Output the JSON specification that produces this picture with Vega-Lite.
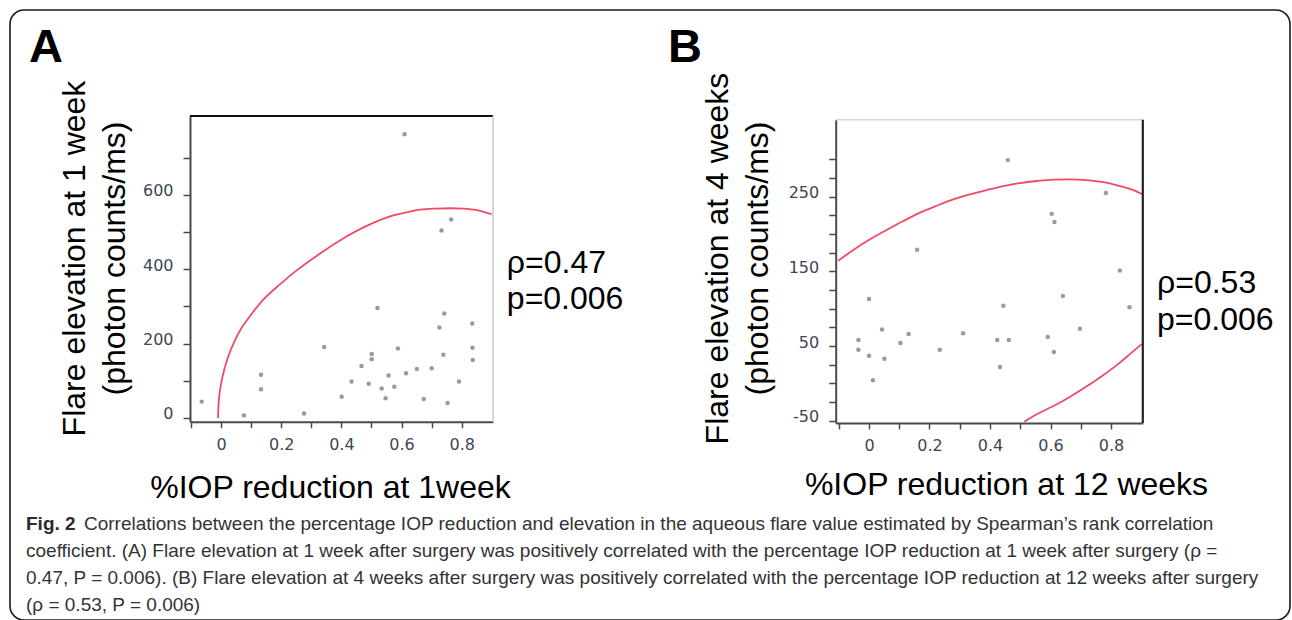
{
  "$schema": "https://vega.github.io/schema/vega-lite/v6.json",
  "width": 1280,
  "height": 610,
  "autosize": {"type": "none"},
  "padding": {"left": 10, "top": 10, "right": 2, "bottom": 0},
  "background": "white",
  "view": {"stroke": "#1a1a1a", "strokeWidth": 1.6, "cornerRadius": 14, "fill": "white"},
  "datasets": {
    "pointsA": [
      {"x": -0.064, "y": 44}, {"x": 0.076, "y": 7}, {"x": 0.133, "y": 116}, {"x": 0.133, "y": 77},
      {"x": 0.276, "y": 12}, {"x": 0.343, "y": 191}, {"x": 0.401, "y": 57}, {"x": 0.434, "y": 98},
      {"x": 0.467, "y": 140}, {"x": 0.491, "y": 92}, {"x": 0.501, "y": 172}, {"x": 0.501, "y": 158},
      {"x": 0.52, "y": 296}, {"x": 0.534, "y": 79}, {"x": 0.547, "y": 53}, {"x": 0.557, "y": 114},
      {"x": 0.576, "y": 84}, {"x": 0.588, "y": 187}, {"x": 0.61, "y": 763}, {"x": 0.615, "y": 120},
      {"x": 0.651, "y": 132}, {"x": 0.674, "y": 51}, {"x": 0.7, "y": 134}, {"x": 0.726, "y": 243},
      {"x": 0.733, "y": 504}, {"x": 0.739, "y": 170}, {"x": 0.742, "y": 281}, {"x": 0.753, "y": 40},
      {"x": 0.765, "y": 534}, {"x": 0.791, "y": 98}, {"x": 0.835, "y": 254}, {"x": 0.836, "y": 189},
      {"x": 0.837, "y": 156}
    ],
    "curveA": [
      {"x": -0.01, "y": 0}, {"x": -0.0066, "y": 52.5}, {"x": 0.0, "y": 90.9}, {"x": 0.01, "y": 127.8},
      {"x": 0.0233, "y": 163.3}, {"x": 0.0432, "y": 203.4}, {"x": 0.0698, "y": 243.7}, {"x": 0.103, "y": 281.1},
      {"x": 0.1429, "y": 320.2}, {"x": 0.196, "y": 359.2}, {"x": 0.2558, "y": 399.5}, {"x": 0.3223, "y": 438.5},
      {"x": 0.3953, "y": 477.5}, {"x": 0.4841, "y": 516.5}, {"x": 0.5724, "y": 544.8}, {"x": 0.6168, "y": 553},
      {"x": 0.6611, "y": 560}, {"x": 0.7165, "y": 563}, {"x": 0.7608, "y": 564}, {"x": 0.8051, "y": 563},
      {"x": 0.8494, "y": 559}, {"x": 0.8992, "y": 548}
    ],
    "pointsB": [
      {"x": -0.035, "y": 58}, {"x": -0.035, "y": 45}, {"x": 0.0, "y": 113}, {"x": 0.0, "y": 37},
      {"x": 0.013, "y": 4}, {"x": 0.043, "y": 72}, {"x": 0.051, "y": 33}, {"x": 0.104, "y": 54},
      {"x": 0.131, "y": 66}, {"x": 0.159, "y": 179}, {"x": 0.234, "y": 45}, {"x": 0.311, "y": 67},
      {"x": 0.424, "y": 58}, {"x": 0.433, "y": 22}, {"x": 0.444, "y": 104}, {"x": 0.459, "y": 299},
      {"x": 0.462, "y": 58}, {"x": 0.591, "y": 62}, {"x": 0.604, "y": 227}, {"x": 0.611, "y": 42},
      {"x": 0.613, "y": 216}, {"x": 0.641, "y": 117}, {"x": 0.697, "y": 73}, {"x": 0.783, "y": 255},
      {"x": 0.829, "y": 151}, {"x": 0.861, "y": 102}
    ],
    "curveB": [
      {"seg": "upper", "x": -0.1014, "y": 164.3}, {"seg": "upper", "x": -0.0518, "y": 178.6},
      {"seg": "upper", "x": 0.0033, "y": 192.9}, {"seg": "upper", "x": 0.0584, "y": 205.4},
      {"seg": "upper", "x": 0.1136, "y": 217.4}, {"seg": "upper", "x": 0.1687, "y": 228.6},
      {"seg": "upper", "x": 0.2238, "y": 237.9}, {"seg": "upper", "x": 0.2789, "y": 246.4},
      {"seg": "upper", "x": 0.3341, "y": 253.1}, {"seg": "upper", "x": 0.3892, "y": 258.9},
      {"seg": "upper", "x": 0.4443, "y": 264.3}, {"seg": "upper", "x": 0.4994, "y": 268.3},
      {"seg": "upper", "x": 0.5546, "y": 271.0}, {"seg": "upper", "x": 0.6097, "y": 272.8},
      {"seg": "upper", "x": 0.6648, "y": 273.2}, {"seg": "upper", "x": 0.72, "y": 272.3},
      {"seg": "upper", "x": 0.7751, "y": 269.6}, {"seg": "upper", "x": 0.8302, "y": 264.3},
      {"seg": "upper", "x": 0.8743, "y": 258.9}, {"seg": "upper", "x": 0.9019, "y": 253.6},
      {"seg": "lower", "x": 0.5138, "y": -51.3}, {"seg": "lower", "x": 0.5546, "y": -41.5},
      {"seg": "lower", "x": 0.6097, "y": -30.4}, {"seg": "lower", "x": 0.6648, "y": -17.9},
      {"seg": "lower", "x": 0.72, "y": -4.0}, {"seg": "lower", "x": 0.7751, "y": 11.2},
      {"seg": "lower", "x": 0.8302, "y": 28.1}, {"seg": "lower", "x": 0.8688, "y": 41.5},
      {"seg": "lower", "x": 0.9019, "y": 52.7}
    ],
    "caption": [
      {"line": 1, "part": "label", "text": "Fig. 2"},
      {"line": 1, "part": "body", "text": "Correlations between the percentage IOP reduction and elevation in the aqueous flare value estimated by Spearman’s rank correlation"},
      {"line": 2, "part": "body", "text": "coefficient. (A) Flare elevation at 1 week after surgery was positively correlated with the percentage IOP reduction at 1 week after surgery (ρ ="},
      {"line": 3, "part": "body", "text": "0.47, P = 0.006). (B) Flare elevation at 4 weeks after surgery was positively correlated with the percentage IOP reduction at 12 weeks after surgery"},
      {"line": 4, "part": "body", "text": "(ρ = 0.53, P = 0.006)"}
    ]
  },
  "layer": [
    {
      "layer": [
        {
          "data": {"name": "pointsA"},
          "mark": {"type": "circle", "size": 20, "color": "#9a9a9a", "opacity": 1},
          "encoding": {
            "x": {
              "field": "x", "type": "quantitative",
              "scale": {"domain": [-0.103, 0.904], "range": [180, 483], "zero": false, "nice": false},
              "axis": {
                "orient": "bottom", "offset": -198.3,
                "values": [-0.1, 0, 0.1, 0.2, 0.3, 0.4, 0.5, 0.6, 0.7, 0.8],
                "labelExpr": "round(datum.value * 10) % 2 === 0 ? '' + datum.value : ''",
                "title": "%IOP reduction at 1week", "titleX": 320, "titleY": 76
              }
            },
            "y": {
              "field": "y", "type": "quantitative",
              "scale": {"domain": [-10, 812], "range": [411.7, 106], "zero": false, "nice": false},
              "axis": {
                "orient": "left", "offset": -180,
                "values": [0, 100, 200, 300, 400, 500, 600, 700],
                "labelExpr": "datum.value % 200 === 0 ? '' + datum.value : ''",
                "title": ["Flare elevation at 1 week", "(photon counts/ms)"],
                "titleX": -106, "titleY": 248
              }
            }
          }
        },
        {
          "data": {"name": "curveA"},
          "mark": {"type": "line", "color": "#ef4b66", "strokeWidth": 1.8, "interpolate": "catmull-rom"},
          "encoding": {
            "x": {"field": "x", "type": "quantitative"},
            "y": {"field": "y", "type": "quantitative"}
          }
        },
        {
          "data": {"values": [{}]},
          "mark": {"type": "rule", "color": "#111111", "strokeWidth": 2},
          "encoding": {
            "x": {"datum": -0.103, "type": "quantitative"},
            "x2": {"datum": 0.904},
            "y": {"datum": 812, "type": "quantitative"}
          }
        },
        {
          "data": {"values": [{}]},
          "mark": {"type": "rule", "color": "#c8c8c8", "strokeWidth": 1.5},
          "encoding": {
            "x": {"datum": 0.904, "type": "quantitative"},
            "y": {"datum": -10, "type": "quantitative"},
            "y2": {"datum": 812}
          }
        },
        {
          "data": {"values": [{"label": "ρ=0.47\np=0.006"}]},
          "mark": {"type": "text", "align": "left", "baseline": "alphabetic", "font": "Liberation Sans", "fontSize": 32, "lineHeight": 36, "lineBreak": "\n", "color": "#000000"},
          "encoding": {
            "x": {"datum": 0.95, "type": "quantitative"},
            "y": {"datum": 390, "type": "quantitative"},
            "text": {"field": "label"}
          }
        },
        {
          "data": {"values": [{"label": "A"}]},
          "mark": {"type": "text", "align": "left", "baseline": "alphabetic", "font": "Liberation Sans", "fontSize": 47, "fontWeight": "bold", "color": "#000000"},
          "encoding": {
            "x": {"datum": -0.638, "type": "quantitative"},
            "y": {"datum": 957.8, "type": "quantitative"},
            "text": {"field": "label"}
          }
        }
      ]
    },
    {
      "layer": [
        {
          "data": {"name": "pointsB"},
          "mark": {"type": "circle", "size": 20, "color": "#9a9a9a", "opacity": 1},
          "encoding": {
            "x": {
              "field": "x", "type": "quantitative",
              "scale": {"domain": [-0.11, 0.905], "range": [825.7, 1132.8], "zero": false, "nice": false},
              "axis": {
                "orient": "bottom", "offset": -197.1,
                "values": [-0.1, 0, 0.1, 0.2, 0.3, 0.4, 0.5, 0.6, 0.7, 0.8],
                "labelExpr": "round(datum.value * 10) % 2 === 0 ? '' + datum.value : ''",
                "title": "%IOP reduction at 12 weeks", "titleX": 996, "titleY": 72
              }
            },
            "y": {
              "field": "y", "type": "quantitative",
              "scale": {"domain": [-53, 353], "range": [412.9, 109.8], "zero": false, "nice": false},
              "axis": {
                "orient": "left", "offset": -825.7,
                "values": [-50, -25, 0, 25, 50, 75, 100, 125, 150, 175, 200, 225, 250, 275, 300],
                "labelExpr": "(datum.value + 50) % 100 === 0 ? '' + datum.value : ''",
                "title": ["Flare elevation at 4 weeks", "(photon counts/ms)"],
                "titleX": -108, "titleY": 248
              }
            }
          }
        },
        {
          "data": {"name": "curveB"},
          "mark": {"type": "line", "color": "#ef4b66", "strokeWidth": 1.8, "interpolate": "monotone"},
          "encoding": {
            "x": {"field": "x", "type": "quantitative"},
            "y": {"field": "y", "type": "quantitative"},
            "detail": {"field": "seg"}
          }
        },
        {
          "data": {"values": [{}]},
          "mark": {"type": "rule", "color": "#d6d6d6", "strokeWidth": 1.5},
          "encoding": {
            "x": {"datum": -0.11, "type": "quantitative"},
            "x2": {"datum": 0.905},
            "y": {"datum": 353, "type": "quantitative"}
          }
        },
        {
          "data": {"values": [{}]},
          "mark": {"type": "rule", "color": "#222222", "strokeWidth": 2.2},
          "encoding": {
            "x": {"datum": 0.905, "type": "quantitative"},
            "y": {"datum": -53, "type": "quantitative"},
            "y2": {"datum": 353}
          }
        },
        {
          "data": {"values": [{"label": "ρ=0.53\np=0.006"}]},
          "mark": {"type": "text", "align": "left", "baseline": "alphabetic", "font": "Liberation Sans", "fontSize": 32, "lineHeight": 37, "lineBreak": "\n", "color": "#000000"},
          "encoding": {
            "x": {"datum": 0.952, "type": "quantitative"},
            "y": {"datum": 121, "type": "quantitative"},
            "text": {"field": "label"}
          }
        },
        {
          "data": {"values": [{"label": "B"}]},
          "mark": {"type": "text", "align": "left", "baseline": "alphabetic", "font": "Liberation Sans", "fontSize": 47, "fontWeight": "bold", "color": "#000000"},
          "encoding": {
            "x": {"datum": -0.6645, "type": "quantitative"},
            "y": {"datum": 430.4, "type": "quantitative"},
            "text": {"field": "label"}
          }
        }
      ]
    },
    {
      "data": {"name": "caption"},
      "encoding": {
        "x": {"datum": 0, "type": "quantitative", "scale": {"domain": [0, 1], "range": [16, 1016]}, "axis": null},
        "y": {"field": "line", "type": "quantitative", "scale": {"domain": [1, 4], "range": [520, 601]}, "axis": null},
        "text": {"field": "text"}
      },
      "layer": [
        {
          "transform": [{"filter": "datum.part === 'label'"}],
          "mark": {"type": "text", "align": "left", "baseline": "alphabetic", "font": "Liberation Sans", "fontSize": 19, "fontWeight": "bold", "color": "#2b2b2b"}
        },
        {
          "transform": [{"filter": "datum.part === 'body' && datum.line === 1"}],
          "mark": {"type": "text", "align": "left", "baseline": "alphabetic", "font": "Liberation Sans", "fontSize": 19, "dx": 58, "color": "#333333"}
        },
        {
          "transform": [{"filter": "datum.part === 'body' && datum.line > 1"}],
          "mark": {"type": "text", "align": "left", "baseline": "alphabetic", "font": "Liberation Sans", "fontSize": 19, "color": "#333333"}
        }
      ]
    }
  ],
  "resolve": {
    "scale": {"x": "independent", "y": "independent"},
    "axis": {"x": "independent", "y": "independent"}
  },
  "config": {
    "axis": {
      "grid": false,
      "labelFont": "DejaVu Sans",
      "labelFontSize": 16,
      "labelColor": "#3a4657",
      "domainColor": "#4a4a4a",
      "domainWidth": 2,
      "tickColor": "#4a4a4a",
      "tickWidth": 1.5,
      "titleFont": "Liberation Sans",
      "titleFontSize": 32,
      "titleFontWeight": "normal",
      "titleColor": "#000000",
      "labelOverlap": false,
      "labelFlush": false,
      "labelBound": false
    },
    "axisX": {"tickSize": 6, "labelPadding": 9, "titleAlign": "center", "titleBaseline": "alphabetic"},
    "axisY": {"tickSize": 7, "labelPadding": 10, "labelOffset": -4, "titleAngle": 270, "titleAlign": "center", "titleBaseline": "alphabetic", "titleLineHeight": 40}
  }
}
